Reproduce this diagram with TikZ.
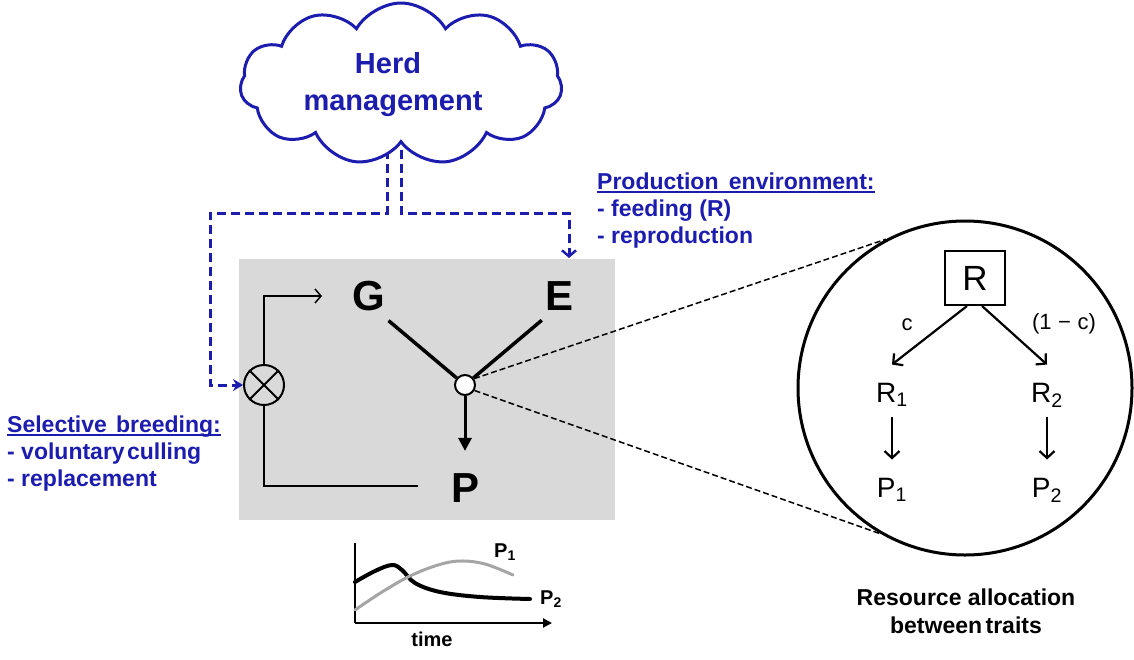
\documentclass[tikz,border=0pt]{standalone}
\usepackage{fontspec}
\setmainfont{Liberation Sans}
\usetikzlibrary{shapes.symbols,arrows.meta}
\definecolor{hblue}{RGB}{28,28,175}
\definecolor{boxgray}{RGB}{217,217,217}
\definecolor{curvegray}{RGB}{165,165,165}
\begin{document}
\begin{tikzpicture}[x=1pt,y=-1pt,
  bdash/.style={hblue, line width=3pt, dash pattern=on 9pt off 5pt},
  bluetxt/.style={text=hblue, font=\fontsize{23}{25}\selectfont\bfseries, anchor=base west, inner sep=0pt},
  bigl/.style={font=\fontsize{42}{42}\selectfont\bfseries, inner sep=0pt, anchor=base},
  sublbl/.style={font=\fontsize{28}{28}\selectfont, inner sep=0pt, anchor=base},
  chartlbl/.style={font=\fontsize{20}{20}\selectfont\bfseries, inner sep=0pt, anchor=base},
  barb/.style={line width=2.2pt, -{Straight Barb[length=7pt,width=15pt]}},
  thinln/.style={line width=1.5pt},
  zoomln/.style={line width=1.5pt, dash pattern=on 6pt off 3pt}
]
\useasboundingbox (0,0) rectangle (1134,659);

% gray box
\node[fill=boxgray, minimum width=376pt, minimum height=261pt, inner sep=0pt, anchor=north west] (box) at (239,259) {};

% blue dashed connectors
\coordinate (c1) at (387,150);
\coordinate (c2) at (401,150);
\coordinate (lc) at (210,213);
\coordinate (rc) at (569,213);
\coordinate (etop) at (569,258);
\node[circle, draw, line width=2pt, minimum size=40pt, inner sep=0pt] (ox) at (264,385) {};
\draw[line width=2pt] (ox.north west) -- (ox.south east) (ox.north east) -- (ox.south west);
\draw[bdash, -{Stealth[length=10pt,width=12pt]}] (c1) |- (lc) |- (ox.west);
\draw[bdash, -{Straight Barb[length=6pt,width=14pt,line width=2.5pt]}] (c2) |- (rc) -- (etop);

% cloud
\node[cloud, cloud puffs=11, cloud puff arc=120, cloud ignores aspect, draw=hblue, line width=3pt, fill=white, minimum width=322pt, minimum height=162pt, inner sep=0pt] (cloud) at (401,84) {};
\node[text=hblue, font=\fontsize{29}{29}\selectfont\bfseries, anchor=base, inner sep=0pt] (herd) at (388,73) {Herd};
\node[text=hblue, font=\fontsize{29}{29}\selectfont\bfseries, anchor=base, inner sep=0pt] (mgmt) at (393,110) {management};

% feedback loop
\coordinate (gin) at (322,296);
\coordinate (pend) at (418,486);
\draw[thinln, -{Straight Barb[length=6pt,width=14pt]}] (ox.north) |- (gin);
\draw[thinln] (ox.south) |- (pend);

% G E P
\node[bigl] (G) at (369,310) {G};
\node[bigl] (E) at (559,310) {E};
\node[bigl] (P) at (465,502) {P};
\node[circle, draw, line width=2pt, fill=white, minimum size=20pt, inner sep=0pt] (j) at (465,385) {};
\draw[line width=3.5pt] ([shift={(3pt,-10pt)}]G.south east) -- (j);
\draw[line width=3.5pt] ([shift={(-3pt,-10pt)}]E.south west) -- (j);
\draw[line width=3pt, -{Triangle[length=13pt,width=13pt]}] (j) -- ([yshift=22pt]P.north);

% blue texts
\node[bluetxt] (pe) at (597,189) {Production\hspace{0.45em}environment:};
\draw[hblue, line width=1.5pt] ([yshift=-3pt]pe.base west) -- ([yshift=-3pt]pe.base east);
\node[bluetxt] (pe2) at (597,216) {- feeding (R)};
\node[bluetxt] (pe3) at (597,243) {- reproduction};

\node[bluetxt] (sb) at (7,432) {Selective\hspace{0.4em}breeding:};
\draw[hblue, line width=1.5pt] ([yshift=-3pt]sb.base west) -- ([yshift=-3pt]sb.base east);
\node[bluetxt] (sb2) at (7,459) {- voluntary\hspace{0.1em}culling};
\node[bluetxt] (sb3) at (7,486) {- replacement};

% zoom circle
\node[circle, draw, line width=3pt, minimum size=334pt, inner sep=0pt] (bc) at (965,388) {};
\draw[zoomln] (j.35) -- (bc.118);
\draw[zoomln] (j.-30) -- (bc.240);

\node[draw, line width=2pt, minimum width=60pt, minimum height=54pt, inner sep=0pt, font=\fontsize{35}{35}\selectfont] (R) at (975,278) {R};
\node[sublbl] (R1) at (892,402) {R\textsubscript{1}};
\node[sublbl] (R2) at (1047,402) {R\textsubscript{2}};
\node[sublbl] (P1) at (892,497) {P\textsubscript{1}};
\node[sublbl] (P2) at (1047,497) {P\textsubscript{2}};
\draw[barb] ([xshift=-8pt]R.south) -- ([yshift=18pt]R1.north);
\draw[barb] ([xshift=7pt]R.south) -- ([yshift=18pt]R2.north);
\draw[barb] ([yshift=-10pt]R1.south) -- ([yshift=18pt]P1.north);
\draw[barb] ([yshift=-10pt]R2.south) -- ([yshift=18pt]P2.north);
\node[font=\fontsize{22}{22}\selectfont, inner sep=0pt] (cl) at (907,325) {c};
\node[font=\fontsize{22}{22}\selectfont, inner sep=0pt] (cr) at (1064,324) {(1\hspace{0.3em}\char"2212\hspace{0.3em}c)};

\node[font=\fontsize{23}{23}\selectfont\bfseries, inner sep=0pt, anchor=base] (ra1) at (966,605) {Resource allocation};
\node[font=\fontsize{23}{23}\selectfont\bfseries, inner sep=0pt, anchor=base] (ra2) at (966,633) {between\hspace{0.15em}traits};

% chart
\coordinate (o) at (355,623);
\coordinate (yt) at (355,543);
\coordinate (xr) at (552,623);
\draw[line width=2pt] (yt) -- (o);
\draw[line width=2pt, -{Triangle[length=9pt,width=9pt]}] (o) -- (xr);
\draw[line width=4pt, line cap=round] plot[smooth, tension=0.6] coordinates {(355,582) (375,571) (392,565) (402,570) (415,583) (440,592) (480,597) (530,599)};
\draw[curvegray, line width=3pt, line cap=round] plot[smooth, tension=0.6] coordinates {(355,610) (382,592) (410,576) (438,565) (460,561) (485,564) (513,575)};
\node[chartlbl] (cp1) at (505,557) {P\textsubscript{1}};
\node[chartlbl] (cp2) at (551,604) {P\textsubscript{2}};
\node[font=\fontsize{20}{20}\selectfont\bfseries, inner sep=0pt, anchor=base] (tm) at (432,646) {time};
\end{tikzpicture}
\end{document}
